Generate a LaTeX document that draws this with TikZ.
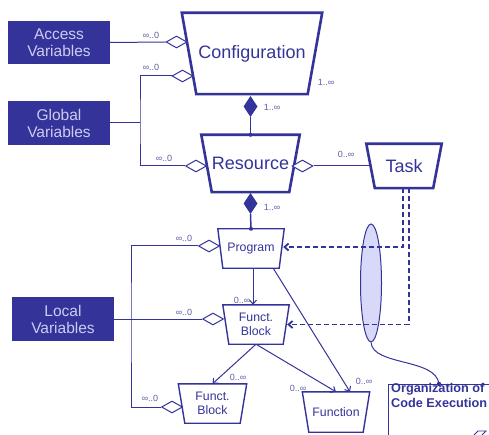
\documentclass[tikz,border=0pt]{standalone}
\usepackage{fontspec}
\setmainfont{Liberation Sans}
\usetikzlibrary{shapes.geometric,arrows.meta}
\definecolor{umlblue}{HTML}{333399}
\definecolor{varfg}{HTML}{CCCCF2}
\definecolor{multc}{HTML}{5C5CA8}
\definecolor{grpfill}{HTML}{D8D8F8}
\begin{document}
\begin{tikzpicture}[x=1pt,y=-1pt,
  >={Straight Barb[length=4pt,width=7pt]},
  varbox/.style={fill=umlblue,text=varfg,align=center,inner sep=0pt,minimum width=102pt,minimum height=43pt,font=\fontsize{15.5}{17}\selectfont},
  bigtrap/.style={draw=umlblue,line width=2.6pt},
  smalltrap/.style={draw=umlblue,line width=1.4pt},
  bigname/.style={text=umlblue,inner sep=0pt,font=\fontsize{18}{18}\selectfont},
  smallname/.style={text=umlblue,align=center,inner sep=0pt,font=\fontsize{12.3}{14}\selectfont},
  agg/.style={diamond,draw=umlblue,fill=white,line width=1pt,minimum width=21pt,minimum height=12pt,inner sep=0pt},
  comp/.style={diamond,fill=umlblue,minimum width=14pt,minimum height=21pt,inner sep=0pt},
  mult/.style={text=multc,inner sep=0pt,font=\fontsize{9}{9}\selectfont},
  conn/.style={draw=umlblue,line width=1pt},
  call/.style={draw=umlblue,line width=1.8pt,dash pattern=on 5pt off 3pt,->},
]
\clip (0,0) rectangle (489,435);
% Top: configuration, resource and task
\node[bigname,minimum width=111pt,minimum height=81pt] (config) at (252,53.5) {Configuration};
\draw[bigtrap] ([xshift=-14.5pt]config.north west) -- ([xshift=14.5pt]config.north east) -- (config.south east) -- (config.south west) -- cycle;
\node[bigname,minimum width=75pt,minimum height=57pt] (res) at (250.5,163.5) {Resource};
\draw[bigtrap] ([xshift=-10.5pt]res.north west) -- ([xshift=10.5pt]res.north east) -- (res.south east) -- (res.south west) -- cycle;
\node[bigname,minimum width=58pt,minimum height=44pt] (task) at (404,166) {Task};
\draw[bigtrap] ([xshift=-8.5pt]task.north west) -- ([xshift=8.5pt]task.north east) -- (task.south east) -- (task.south west) -- cycle;
% Middle: program and function blocks
\node[smallname,minimum width=56pt,minimum height=39pt] (prog) at (251,248.5) {Program};
\draw[smalltrap] ([xshift=-5pt]prog.north west) -- ([xshift=5pt]prog.north east) -- (prog.south east) -- (prog.south west) -- cycle;
\node[smallname,minimum width=54pt,minimum height=39pt] (fbm) at (256,324.5) {Funct.\\Block};
\draw[smalltrap] ([xshift=-6pt]fbm.north west) -- ([xshift=6pt]fbm.north east) -- (fbm.south east) -- (fbm.south west) -- cycle;
\node[smallname,minimum width=55pt,minimum height=39pt] (fbl) at (212.5,403.5) {Funct.\\Block};
\draw[smalltrap] ([xshift=-6.5pt]fbl.north west) -- ([xshift=6.5pt]fbl.north east) -- (fbl.south east) -- (fbl.south west) -- cycle;
\node[smallname,minimum width=54pt,minimum height=40pt] (func) at (336,412) {Function};
\draw[smalltrap] ([xshift=-6.5pt]func.north west) -- ([xshift=6.5pt]func.north east) -- (func.south east) -- (func.south west) -- cycle;
% Left: variables
\node[varbox] (acc) at (59,42.5) {Access\\Variables};
\node[varbox,minimum height=44pt] (glob) at (59,123) {Global\\Variables};
\node[varbox,minimum height=44pt] (loc) at (63,319) {Local\\Variables};
\node[agg] (accd) at (176.5,42) {};
\node[agg] (g1d) at (182.5,76) {};
\node[agg] (g2d) at (196,166) {};
\node[agg] (l1d) at (209,246) {};
\node[agg] (l2d) at (213,319) {};
\node[agg] (l3d) at (172,407) {};
\coordinate (gj) at (140,123);
\coordinate (lj) at (131,319);
\draw[conn] (acc.east) -- (accd.west);
\draw[conn] (glob.east) -- (gj);
\draw[conn] (g1d.west) -| (gj) |- (g2d.west);
\draw[conn] (loc.east) -- (l2d.west);
\draw[conn] (l1d.west) -| (lj) |- (l3d.west);
\node[mult] at (151,35) {∞..0};
\node[mult] at (151,67) {∞..0};
\node[mult] at (164,158) {∞..0};
\node[mult] at (184,238) {∞..0};
\node[mult] at (184,312) {∞..0};
\node[mult] at (150,398) {∞..0};
% Compositions down the middle
\node[comp] (c1) at (250.5,106.5) {};
\node[comp] (c2) at (250.5,203.5) {};
\draw[umlblue,line width=1.5pt] (c1.south) -- (res.north);
\draw[umlblue,line width=1.5pt] (c2.south) -- (prog.north);
\fill[umlblue] (res.north) circle (2pt) (prog.north) circle (2pt);
\node[mult] at (326,82) {1..∞};
\node[mult] at (272,107) {1..∞};
\node[mult] at (272,207) {1..∞};
\node[agg] (rtd) at (302.5,166) {};
\draw[conn] (rtd.east) -- ([xshift=-4pt]task.west);
\node[mult] at (346,154) {0..∞};
% Calls between blocks
\draw[conn,->] ([xshift=2pt]prog.south) -- ([xshift=-3pt]fbm.north);
\draw[conn,->] ([xshift=-6pt]prog.south east) -- ([xshift=14pt]func.north);
\draw[conn,->] (fbm.south) -- (func.north);
\draw[conn,->] (fbm.south) -- (fbl.north);
\node[mult] at (242,300) {0..∞};
\node[mult] at (238,377) {0..∞};
\node[mult] at (298,388) {0..∞};
\node[mult] at (364,381) {0..∞};
% Right: task execution
\node[ellipse,draw=umlblue,fill=grpfill,line width=1pt,minimum width=21pt,minimum height=118pt,inner sep=0pt] (grp) at (371,283) {};
\draw[call] ([xshift=-1pt]task.south) |- ([xshift=4pt,yshift=1.5pt]prog.east);
\draw[call] ([xshift=5pt]task.south) |- ([xshift=4pt]fbm.east);
\node[draw=umlblue,line width=1.4pt,anchor=north west,minimum width=120pt,minimum height=70pt] (org) at (388,384) {};
\coordinate (orgin) at (439,384);
\draw[conn] (grp.south) .. controls (373,366) and (436,358) .. (orgin);
\fill[umlblue] (orgin) circle (2.2pt);
\node[anchor=base west,align=left,text=umlblue,inner sep=0pt,font=\bfseries\fontsize{12.7}{15}\selectfont] (orgtxt) at (391,407.5) {Organization of\\Code Execution};
\draw[umlblue,line width=0.8pt] (474,435) -- (478,431) -- (486,431) -- (482,435);
\end{tikzpicture}
\end{document}
